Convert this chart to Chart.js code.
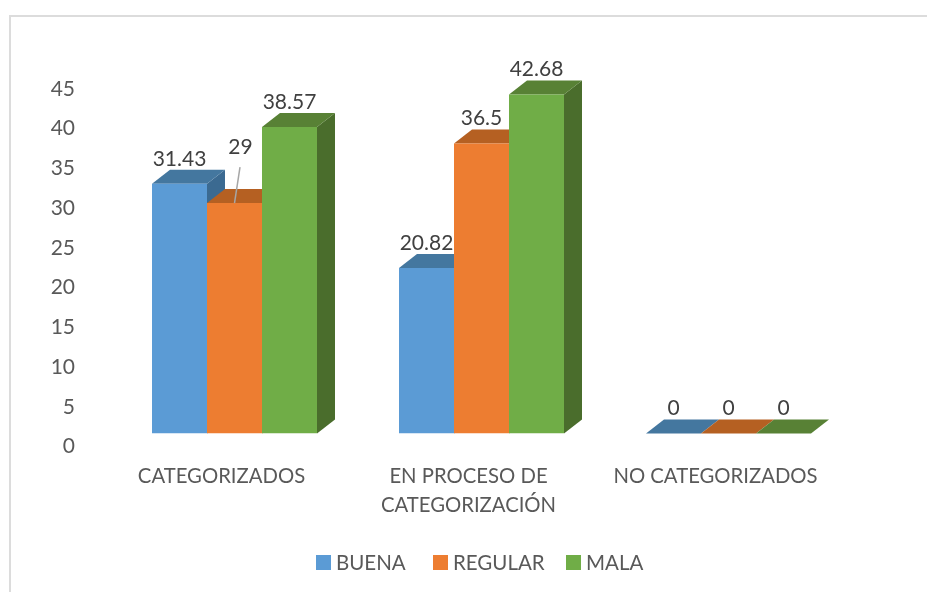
<!DOCTYPE html>
<html lang="es">
<head>
<meta charset="utf-8">
<title>Chart</title>
<script src="https://cdn.jsdelivr.net/npm/chart.js@4"></script>
<style>
  html, body { margin: 0; padding: 0; background: #fff; overflow: hidden; }
  #wrap { position: relative; width: 927px; height: 592px; overflow: hidden; }
  #frame { position: absolute; left: 9px; top: 15px; width: 1000px; height: 1000px; border: 2px solid #dcdcdc; }
  #chart { position: absolute; left: 0; top: 0; }
</style>
</head>
<body>
<div id="wrap">
  <div id="frame"></div>
  <canvas id="chart" width="927" height="592"></canvas>
</div>
<script>
// Data
const categories = ["CATEGORIZADOS", ["EN PROCESO DE", "CATEGORIZACIÓN"], "NO CATEGORIZADOS"];
const buena = [31.43, 20.82, 0];
const regular = [29, 36.5, 0];
const mala = [38.57, 42.68, 0];
const yTicks = [0, 5, 10, 15, 20, 25, 30, 35, 40, 45];

// front, top, side colours
const blue = ["#5b9bd5", "#44779f", "#3b6a91"];
const orange = ["#ed7d31", "#b56022", "#a85a20"];
const green = ["#70ad47", "#588135", "#4a6d2c"];

const FONT = "Lato, Carlito, sans-serif";
const DEPTH_X = 18;
const DEPTH_Y = 14;

function poly(ctx, pts, color) {
  ctx.fillStyle = color;
  ctx.beginPath();
  pts.forEach((p, i) => (i ? ctx.lineTo(p[0], p[1]) : ctx.moveTo(p[0], p[1])));
  ctx.closePath();
  ctx.fill();
}

// Top and side faces of the bars, behind the native fronts
const depthPlugin = {
  id: "depth",
  beforeDatasetsDraw(chart) {
    const ctx = chart.ctx;
    const base = chart.scales.y.getPixelForValue(0);
    chart.data.datasets.forEach((ds, i) => {
      chart.getDatasetMeta(i).data.forEach((bar) => {
        const l = bar.x - bar.width / 2;
        const r = bar.x + bar.width / 2;
        const t = bar.y;
        poly(ctx, [[r, t], [r + DEPTH_X, t - DEPTH_Y], [r + DEPTH_X, base - DEPTH_Y], [r, base]], ds.sideColor);
        poly(ctx, [[l, t], [l + DEPTH_X, t - DEPTH_Y], [r + DEPTH_X, t - DEPTH_Y], [r, t]], ds.topColor);
      });
    });
  },
};

// Value labels above each bar, the "29" one is pulled up with a leader line like the original
const labelPlugin = {
  id: "valueLabels",
  afterDatasetsDraw(chart) {
    const ctx = chart.ctx;
    ctx.save();
    ctx.font = "21px " + FONT;
    ctx.textAlign = "center";
    ctx.textBaseline = "middle";
    chart.data.datasets.forEach((ds, i) => {
      chart.getDatasetMeta(i).data.forEach((bar, j) => {
        const pulled = i === 1 && j === 0;
        if (pulled) {
          ctx.strokeStyle = "#a6a6a6";
          ctx.lineWidth = 1.5;
          ctx.beginPath();
          ctx.moveTo(bar.x + 5.5, bar.y - 36);
          ctx.lineTo(bar.x, bar.y);
          ctx.stroke();
        }
        ctx.fillStyle = "#404040";
        ctx.fillText(String(ds.data[j]), bar.x + (pulled ? 6 : 0), bar.y - (pulled ? 56 : 25));
      });
    });
    ctx.restore();
  },
};

// Legend drawn by hand: the gap between swatch and text is tighter than the built-in one
const legendPlugin = {
  id: "bottomLegend",
  afterDraw(chart) {
    const ctx = chart.ctx;
    const y = 562.5;
    const starts = [316, 433, 566];
    ctx.save();
    ctx.font = "20.5px " + FONT;
    ctx.textAlign = "left";
    ctx.textBaseline = "middle";
    chart.data.datasets.forEach((ds, i) => {
      ctx.fillStyle = ds.backgroundColor;
      ctx.fillRect(starts[i], y - 7.5, 15, 15);
      ctx.fillStyle = "#595959";
      ctx.fillText(ds.label, starts[i] + 20, y + 0.5);
    });
    ctx.restore();
  },
};

new Chart(document.getElementById("chart"), {
  type: "bar",
  data: {
    labels: categories,
    datasets: [
      { label: "BUENA", data: buena, backgroundColor: blue[0], topColor: blue[1], sideColor: blue[2] },
      { label: "REGULAR", data: regular, backgroundColor: orange[0], topColor: orange[1], sideColor: orange[2] },
      { label: "MALA", data: mala, backgroundColor: green[0], topColor: green[1], sideColor: green[2] },
    ],
  },
  options: {
    responsive: false,
    animation: false,
    events: [],
    layout: { padding: { top: 76, right: 75, left: 0, bottom: 0 } },
    datasets: { bar: { barPercentage: 1, categoryPercentage: 0.668 } },
    plugins: { legend: { display: false }, tooltip: { enabled: false } },
    scales: {
      x: {
        grid: { display: false },
        border: { display: false },
        afterFit: (scale) => { scale.height = 158.5; },
        ticks: {
          color: "#595959",
          font: { family: FONT, size: 20.3, lineHeight: 1.4 },
          maxRotation: 0,
          autoSkip: false,
          padding: 21,
          labelOffset: -13,
        },
      },
      y: {
        min: 0,
        max: 45,
        grid: { display: false },
        border: { display: false },
        afterFit: (scale) => { scale.width = 111; },
        afterBuildTicks: (scale) => { scale.ticks = yTicks.map((v) => ({ value: v })); },
        ticks: {
          color: "#595959",
          font: { family: FONT, size: 21 },
          padding: 28,
          labelOffset: 13,
        },
      },
    },
  },
  plugins: [depthPlugin, labelPlugin, legendPlugin],
});
</script>
</body>
</html>
